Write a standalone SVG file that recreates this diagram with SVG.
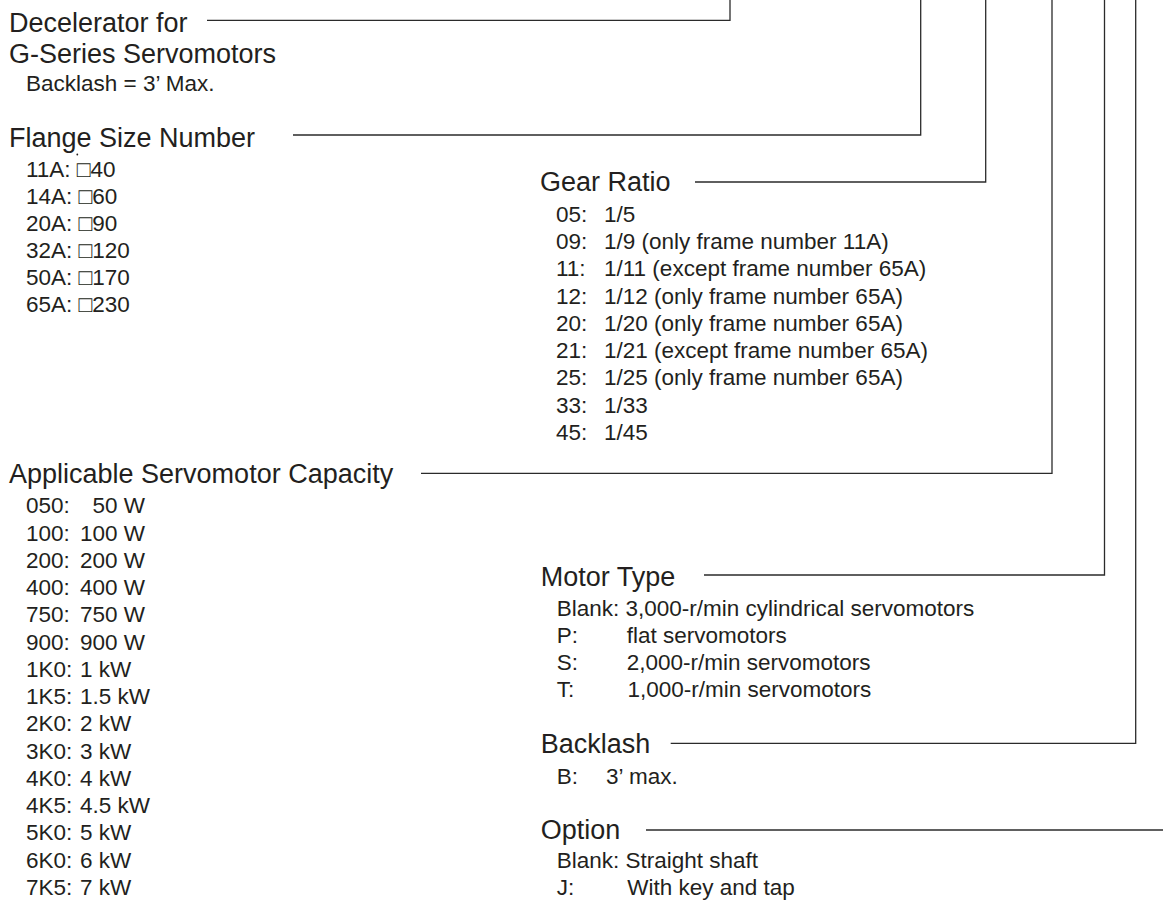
<svg xmlns="http://www.w3.org/2000/svg" width="1163" height="903" viewBox="0 0 1163 903">
<style>
  text { font-family: "Liberation Sans", Arial, Helvetica, sans-serif; fill: #231f20; }
  .t { font-size: 27px; }
  .i { font-size: 22.5px; }
  .c { fill: none; stroke: #2b2b2b; stroke-width: 1.3; }
</style>
<rect width="1163" height="903" fill="#ffffff"/>
<g id="connectors">
  <polyline class="c" points="207,20.3 730,20.3 730,0"/>
  <polyline class="c" points="293,135 920.7,135 920.7,0"/>
  <polyline class="c" points="695,182 985.7,182 985.7,0"/>
  <polyline class="c" points="421,473.3 1052,473.3 1052,0"/>
  <polyline class="c" points="704,575 1104.5,575 1104.5,0"/>
  <polyline class="c" points="670.7,743.3 1135.7,743.3 1135.7,0"/>
  <polyline class="c" points="646,830 1163,830"/>
</g>
<g id="decelerator">
  <text class="t" x="9" y="31.7">Decelerator for</text>
  <text class="t" x="9" y="63.3">G-Series Servomotors</text>
  <text class="i" x="26" y="90.7">Backlash = 3’ Max.</text>
</g>
<g id="flange-size">
  <text class="t" x="9" y="146.7">Flange Size Number</text>
  <circle cx="77.3" cy="154.5" r="0.9" fill="#231f20"/>
  <text class="i" x="26" y="177">11A: □40</text>
  <text class="i" x="26" y="204">14A: □60</text>
  <text class="i" x="26" y="231">20A: □90</text>
  <text class="i" x="26" y="258">32A: □120</text>
  <text class="i" x="26" y="285">50A: □170</text>
  <text class="i" x="26" y="312">65A: □230</text>
</g>
<g id="gear-ratio">
  <text class="t" x="540" y="190.7">Gear Ratio</text>
  <text class="i" x="556" y="221.6">05:</text><text class="i" x="604" y="221.6">1/5</text>
  <text class="i" x="556" y="248.9">09:</text><text class="i" x="604" y="248.9">1/9 (only frame number 11A)</text>
  <text class="i" x="556" y="276.2">11:</text><text class="i" x="604" y="276.2">1/11 (except frame number 65A)</text>
  <text class="i" x="556" y="303.5">12:</text><text class="i" x="604" y="303.5">1/12 (only frame number 65A)</text>
  <text class="i" x="556" y="330.8">20:</text><text class="i" x="604" y="330.8">1/20 (only frame number 65A)</text>
  <text class="i" x="556" y="358.1">21:</text><text class="i" x="604" y="358.1">1/21 (except frame number 65A)</text>
  <text class="i" x="556" y="385.4">25:</text><text class="i" x="604" y="385.4">1/25 (only frame number 65A)</text>
  <text class="i" x="556" y="412.7">33:</text><text class="i" x="604" y="412.7">1/33</text>
  <text class="i" x="556" y="440">45:</text><text class="i" x="604" y="440">1/45</text>
</g>
<g id="capacity">
  <text class="t" x="9" y="483.3">Applicable Servomotor Capacity</text>
  <text class="i" x="26" y="513.3">050:</text><text class="i" x="92.5" y="513.3">50 W</text>
  <text class="i" x="26" y="540.6">100:</text><text class="i" x="80" y="540.6">100 W</text>
  <text class="i" x="26" y="567.8">200:</text><text class="i" x="80" y="567.8">200 W</text>
  <text class="i" x="26" y="595.1">400:</text><text class="i" x="80" y="595.1">400 W</text>
  <text class="i" x="26" y="622.3">750:</text><text class="i" x="80" y="622.3">750 W</text>
  <text class="i" x="26" y="649.6">900:</text><text class="i" x="80" y="649.6">900 W</text>
  <text class="i" x="26" y="676.9">1K0:</text><text class="i" x="80" y="676.9">1 kW</text>
  <text class="i" x="26" y="704.1">1K5:</text><text class="i" x="80" y="704.1">1.5 kW</text>
  <text class="i" x="26" y="731.4">2K0:</text><text class="i" x="80" y="731.4">2 kW</text>
  <text class="i" x="26" y="758.6">3K0:</text><text class="i" x="80" y="758.6">3 kW</text>
  <text class="i" x="26" y="785.9">4K0:</text><text class="i" x="80" y="785.9">4 kW</text>
  <text class="i" x="26" y="813.2">4K5:</text><text class="i" x="80" y="813.2">4.5 kW</text>
  <text class="i" x="26" y="840.4">5K0:</text><text class="i" x="80" y="840.4">5 kW</text>
  <text class="i" x="26" y="867.7">6K0:</text><text class="i" x="80" y="867.7">6 kW</text>
  <text class="i" x="26" y="895">7K5:</text><text class="i" x="80" y="895">7 kW</text>
</g>
<g id="motor-type">
  <text class="t" x="540.7" y="586">Motor Type</text>
  <text class="i" x="556.7" y="616">Blank: 3,000-r/min cylindrical servomotors</text>
  <text class="i" x="556.7" y="643">P:</text><text class="i" x="626.7" y="643">flat servomotors</text>
  <text class="i" x="556.7" y="670">S:</text><text class="i" x="626.7" y="670">2,000-r/min servomotors</text>
  <text class="i" x="556.7" y="697.3">T:</text><text class="i" x="627.5" y="697.3">1,000-r/min servomotors</text>
</g>
<g id="backlash">
  <text class="t" x="540.7" y="752.7">Backlash</text>
  <text class="i" x="556.7" y="784">B:</text><text class="i" x="606" y="784">3’ max.</text>
</g>
<g id="option">
  <text class="t" x="540.7" y="839.3">Option</text>
  <text class="i" x="556.7" y="868.3">Blank: Straight shaft</text>
  <text class="i" x="556.7" y="895">J:</text><text class="i" x="627.3" y="895">With key and tap</text>
</g>
</svg>
